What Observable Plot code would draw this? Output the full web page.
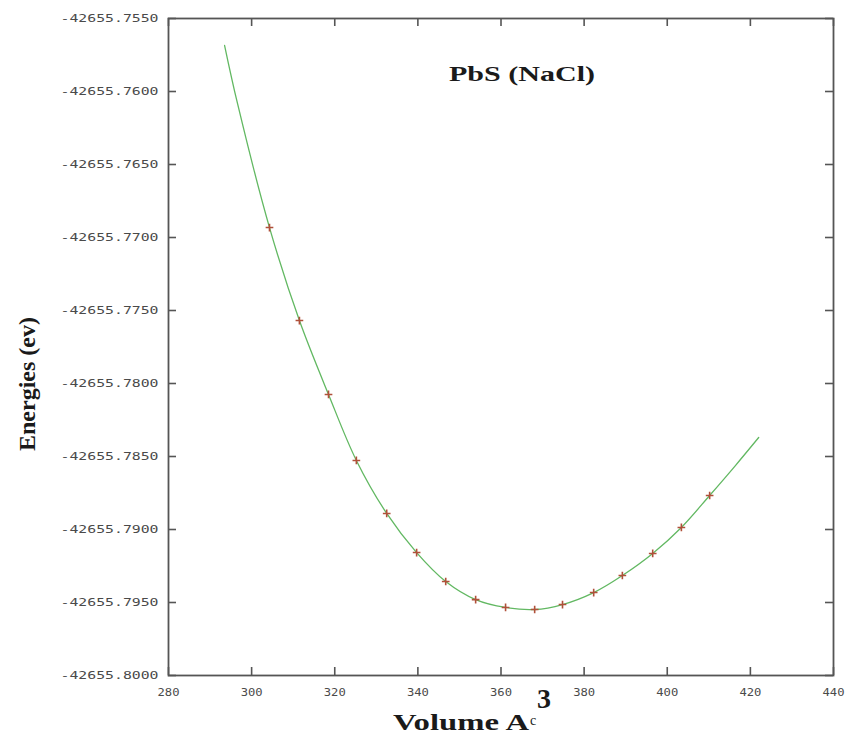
<!DOCTYPE html>
<html><head><meta charset="utf-8">
<script src="https://cdn.jsdelivr.net/npm/d3@7"></script>
<script src="https://cdn.jsdelivr.net/npm/@observablehq/plot@0.6"></script>
<style>body{margin:0;background:#fff}</style>
</head><body><div id="chart"></div>
<script>
// Calculated points (red crosses)
const volumes = [304.3, 311.5, 318.5, 325.2, 332.5, 339.7, 346.7, 353.9, 361.1, 368.1, 374.8, 382.3, 389.2, 396.5, 403.4, 410.2];
const energies = [-42655.76932, -42655.77569, -42655.78075, -42655.78527, -42655.78890, -42655.79158, -42655.79356, -42655.79480, -42655.79534, -42655.79548, -42655.79514, -42655.79432, -42655.79315, -42655.79164, -42655.78986, -42655.78767];
// Fitted curve (green)
const fitVolumes = [293.5, 296.6, 304.3, 311.5, 318.5, 325.2, 332.5, 339.7, 346.7, 353.9, 361.1, 368.1, 374.8, 382.3, 389.2, 396.5, 403.4, 410.2, 416.4, 422.0];
const fitEnergies = [-42655.75685, -42655.76082, -42655.76932, -42655.77569, -42655.78075, -42655.78527, -42655.78890, -42655.79158, -42655.79356, -42655.79480, -42655.79534, -42655.79548, -42655.79514, -42655.79432, -42655.79315, -42655.79164, -42655.78986, -42655.78767, -42655.78562, -42655.78370];
// Tick values
const xTicks = [280, 300, 320, 340, 360, 380, 400, 420, 440];
const yTicks = [-42655.755, -42655.760, -42655.765, -42655.770, -42655.775, -42655.780, -42655.785, -42655.790, -42655.795, -42655.800];
const titleText = "PbS (NaCl)";
const yLabel = "Energies (ev)";
const xLabelMain = "Volume A";
const xLabelSub = "c";
const xLabelSup = "3";

const pts = volumes.map((v, i) => ({v, e: energies[i]}));
const fit = fitVolumes.map((v, i) => ({v, e: fitEnergies[i]}));
const axisFont = {fontFamily: "DejaVu Sans Mono", fontSize: 11, fill: "#4a4a4a"};
const serif = {fontFamily: "Liberation Serif", fontWeight: "bold", fill: "#1a1a1a"};
const tickStyle = {stroke: "#555", strokeWidth: 1.6};

const plot = Plot.plot({
  width: 852, height: 738,
  marginLeft: 168, marginRight: 19, marginTop: 18, marginBottom: 63,
  style: {background: "#fff", overflow: "visible"},
  x: {domain: [280, 440]},
  y: {domain: [-42655.8, -42655.755]},
  marks: [
    Plot.tickY(yTicks, {y: d => d, insetRight: 657, ...tickStyle}),
    Plot.tickY(yTicks, {y: d => d, insetLeft: 657, ...tickStyle}),
    Plot.tickX(xTicks, {x: d => d, insetTop: 649, ...tickStyle}),
    Plot.tickX(xTicks, {x: d => d, insetBottom: 649, ...tickStyle}),
    Plot.frame({stroke: "#555", strokeWidth: 1.8}),
    Plot.axisY({ticks: yTicks, tickSize: 0, tickPadding: 10, tickFormat: d => d.toFixed(4), label: null, ...axisFont}),
    Plot.axisX({ticks: xTicks, tickSize: 0, tickPadding: 13, tickFormat: d => String(d), label: null, ...axisFont}),
    Plot.line(fit, {x: "v", y: "e", stroke: "#62b862", strokeWidth: 1.3, curve: "catmull-rom"}),
    Plot.dot(pts, {x: "v", y: "e", symbol: "plus", r: 2.6, stroke: "#b0503a", strokeWidth: 1.6}),
    Plot.text([titleText], {text: d => d, frameAnchor: "top", dx: 21, dy: 47, fontSize: 22, ...serif}),
    Plot.text([yLabel], {text: d => d, frameAnchor: "left", rotate: -90, dx: -141, dy: 104, fontSize: 24, ...serif}),
    Plot.text([xLabelMain], {text: d => d, frameAnchor: "bottom", dx: -40, dy: 54, fontSize: 24, ...serif}),
    Plot.text([xLabelSub], {text: d => d, frameAnchor: "bottom", dx: 32, dy: 49, fontSize: 14, fontFamily: "Liberation Serif", fill: "#1a1a1a"}),
    Plot.text([xLabelSup], {text: d => d, frameAnchor: "bottom", dx: 43, dy: 32, fontSize: 28, ...serif})
  ]
});
document.getElementById("chart").appendChild(plot);
const svg = d3.select(plot);
const stretch = (txt, len) => svg.selectAll("text").filter(function () { return this.textContent === txt; })
  .attr("textLength", len).attr("lengthAdjust", "spacingAndGlyphs");
svg.selectAll('g[aria-label="y-axis tick label"] text').attr("textLength", 98).attr("lengthAdjust", "spacingAndGlyphs");
svg.selectAll('g[aria-label="x-axis tick label"] text').attr("textLength", 22).attr("lengthAdjust", "spacingAndGlyphs");
stretch(titleText, 146);
stretch(xLabelMain, 136);
</script>
</body></html>
